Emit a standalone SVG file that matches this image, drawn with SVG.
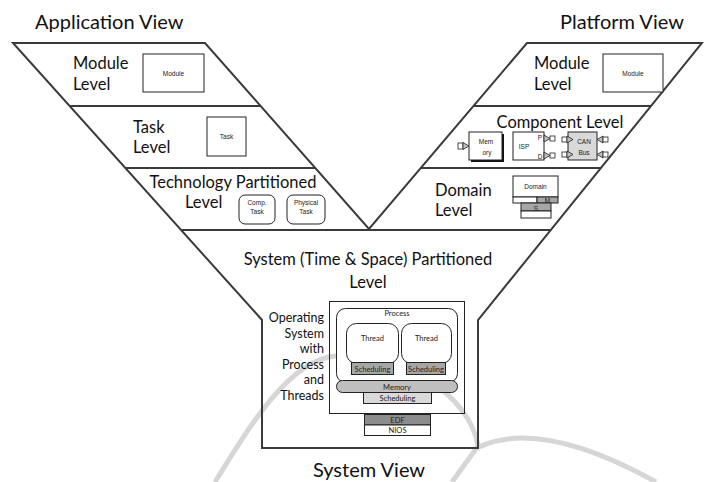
<svg xmlns="http://www.w3.org/2000/svg" width="704" height="482" viewBox="0 0 704 482">
<style>
.frame{fill:none;stroke:#3a3a3a;stroke-width:2;stroke-linejoin:miter}
.sep{stroke:#3a3a3a;stroke-width:2}
.box{fill:#fff;stroke:#222;stroke-width:1}
.g1{fill:#a6a6a6;stroke:#222;stroke-width:1}
.g2{fill:#bfbfbf;stroke:#222;stroke-width:1}
.g3{fill:#8c8c8c;stroke:#222;stroke-width:1}
.g4{fill:#d9d9d9;stroke:#222;stroke-width:1}
.port{fill:#fff;stroke:#222;stroke-width:0.8}
.tri{fill:#bfbfbf;stroke:#222;stroke-width:0.8}
.wm{fill:none;stroke:#d6d6d6;stroke-width:5;stroke-linecap:butt}
.view{font-family:Lato,"Open Sans",sans-serif;font-size:20px;fill:#111}
.lvl{font-family:Lato,"Open Sans",sans-serif;font-size:16.5px;fill:#111}
.os{font-family:Lato,"Open Sans",sans-serif;font-size:12.5px;fill:#111}
.sm{font-family:"Liberation Sans",Arial,sans-serif;font-size:6.5px;fill:#222}
.in{font-family:Lato,"Open Sans",sans-serif;font-size:7.5px;fill:#222}
</style>
<rect width="704" height="482" fill="#fff"/>
<g id="watermark">
<path class="wm" d="M215,482 C250,425 290,360 335,356 C400,350 470,395 478,446 L452,482"/>
<path class="wm" d="M479,447 C520,428 580,440 656,482"/>
</g>
<g id="connectors">
<polygon class="frame" points="13,43 205,43 369,229 527,43 702,43 478,320 478,448 262,448 262,320"/>
<line class="sep" x1="181" y1="230" x2="551" y2="230"/>
<line class="sep" x1="70" y1="106" x2="260" y2="106"/>
<line class="sep" x1="125" y1="168" x2="315" y2="168"/>
<line class="sep" x1="473" y1="106" x2="651" y2="106"/>
<line class="sep" x1="421" y1="168" x2="601" y2="168"/>
</g>
<g id="view-titles">
<text class="view" x="35" y="29">Application View</text>
<text class="view" x="560" y="29">Platform View</text>
<text class="view" x="369" y="477" text-anchor="middle">System View</text>
</g>
<g id="app-module-level">
<text class="lvl" x="73" y="69">Module</text>
<text class="lvl" x="73" y="90">Level</text>
<rect class="box" x="143" y="54" width="61" height="38"/>
<text class="sm" x="173.5" y="76" text-anchor="middle">Module</text>
</g>
<g id="app-task-level">
<text class="lvl" x="133" y="133">Task</text>
<text class="lvl" x="133" y="153">Level</text>
<rect class="box" x="207" y="117" width="39" height="39"/>
<text class="sm" x="226.5" y="139" text-anchor="middle">Task</text>
</g>
<g id="app-technology-level">
<text class="lvl" x="233" y="188" text-anchor="middle">Technology Partitioned</text>
<text class="lvl" x="185" y="208">Level</text>
<rect class="box" x="239" y="195" width="36" height="29" rx="6"/>
<text class="sm" x="257" y="205" text-anchor="middle">Comp.</text>
<text class="sm" x="257" y="214" text-anchor="middle">Task</text>
<rect class="box" x="287" y="195" width="38" height="29" rx="6"/>
<text class="sm" x="306" y="205" text-anchor="middle">Physical</text>
<text class="sm" x="306" y="214" text-anchor="middle">Task</text>
</g>
<g id="plat-module-level">
<text class="lvl" x="534" y="69">Module</text>
<text class="lvl" x="534" y="90">Level</text>
<rect class="box" x="603" y="54" width="60" height="38"/>
<text class="sm" x="633" y="76" text-anchor="middle">Module</text>
</g>
<g id="plat-component-level">
<text class="lvl" x="560" y="128" text-anchor="middle">Component Level</text>
<g id="memory">
<rect x="471" y="134" width="33" height="28" fill="#111"/>
<rect class="box" x="469" y="132" width="33" height="28"/>
<text class="sm" x="486" y="144" text-anchor="middle">Mem</text>
<text class="sm" x="487" y="155" text-anchor="middle">ory</text>
<rect class="port" x="458" y="143" width="5" height="6"/>
<polygon class="tri" points="463,142.5 469,146 463,149.5"/>
</g>
<g id="isp">
<rect class="box" x="513" y="132" width="31" height="28"/>
<text class="sm" x="524" y="149" text-anchor="middle">ISP</text>
<text class="sm" x="540" y="140" text-anchor="middle">P</text>
<text class="sm" x="540" y="159" text-anchor="middle">D</text>
<polygon class="tri" points="544,135 550,138.5 544,142"/>
<rect class="port" x="550" y="136" width="5" height="5"/>
<polygon class="tri" points="544,152 550,155.5 544,159"/>
<rect class="port" x="550" y="153" width="5" height="5"/>
</g>
<g id="can-bus">
<rect class="g4" x="568" y="132" width="29" height="28"/>
<text class="sm" x="584" y="144" text-anchor="middle">CAN</text>
<text class="sm" x="584" y="155" text-anchor="middle">Bus</text>
<rect class="port" x="562" y="137" width="5" height="5"/>
<polygon class="tri" points="567,136 573,139.5 567,143"/>
<rect class="port" x="562" y="152" width="5" height="5"/>
<polygon class="tri" points="567,151 573,154.5 567,158"/>
<polygon class="tri" points="603,136 597,139.5 603,143"/>
<rect class="port" x="603" y="137" width="5" height="5"/>
<polygon class="tri" points="603,151 597,154.5 603,158"/>
<rect class="port" x="603" y="152" width="5" height="5"/>
</g>
</g>
<g id="plat-domain-level">
<text class="lvl" x="435" y="196">Domain</text>
<text class="lvl" x="435" y="216">Level</text>
<rect class="box" x="513" y="176" width="45" height="21"/>
<text class="sm" x="535.5" y="189" text-anchor="middle">Domain</text>
<rect class="box" x="513" y="197" width="24" height="6"/>
<rect class="g1" x="537" y="197" width="21" height="6"/>
<text class="sm" x="547.5" y="202.5" text-anchor="middle">M</text>
<rect class="g1" x="521" y="203" width="30" height="8"/>
<text class="sm" x="536" y="210.5" text-anchor="middle">S</text>
<rect class="box" x="521" y="211" width="30" height="7"/>
</g>
<g id="system-level">
<text class="lvl" x="368" y="265" text-anchor="middle">System (Time &amp; Space) Partitioned</text>
<text class="lvl" x="368" y="288" text-anchor="middle">Level</text>
<text class="os" x="324" y="322" text-anchor="end">Operating</text>
<text class="os" x="324" y="337.5" text-anchor="end">System</text>
<text class="os" x="324" y="353" text-anchor="end">with</text>
<text class="os" x="324" y="368.5" text-anchor="end">Process</text>
<text class="os" x="324" y="384" text-anchor="end">and</text>
<text class="os" x="324" y="399.5" text-anchor="end">Threads</text>
</g>
<g id="os-box">
<rect x="329.5" y="301.5" width="135" height="112" fill="none" stroke="#222" stroke-width="1"/>
</g>
<g id="process">
<rect class="box" x="336.5" y="308.5" width="121" height="74" rx="9" fill="none"/>
<text class="in" x="397" y="316" text-anchor="middle">Process</text>
</g>
<g id="thread-1">
<rect class="box" x="346.5" y="323.5" width="52" height="40" rx="10"/>
<text class="in" x="372.5" y="341" text-anchor="middle">Thread</text>
</g>
<g id="thread-2">
<rect class="box" x="401.5" y="323.5" width="50" height="40" rx="10"/>
<text class="in" x="426.5" y="341" text-anchor="middle">Thread</text>
</g>
<g id="scheduling-1">
<rect class="g1" x="351.5" y="362.5" width="42" height="12"/>
<text class="in" x="372.5" y="371.5" text-anchor="middle">Scheduling</text>
</g>
<g id="scheduling-2">
<rect class="g1" x="406.5" y="362.5" width="39" height="12"/>
<text class="in" x="426" y="371.5" text-anchor="middle">Scheduling</text>
</g>
<g id="memory-pill">
<rect class="g2" x="336.5" y="380.5" width="121" height="12" rx="6"/>
<text class="in" x="397" y="389.5" text-anchor="middle">Memory</text>
</g>
<g id="scheduling-os">
<rect class="g4" x="363.5" y="392.5" width="68" height="11" fill="#c4c4c4"/>
<text class="in" x="397.5" y="401" text-anchor="middle">Scheduling</text>
</g>
<g id="edf">
<rect class="g3" x="364.5" y="414.5" width="66" height="10.5"/>
<text class="in" x="397.5" y="422.5" text-anchor="middle">EDF</text>
</g>
<g id="nios">
<rect class="box" x="364.5" y="425" width="66" height="10.5"/>
<text class="in" x="397.5" y="433" text-anchor="middle">NIOS</text>
</g>
</svg>
